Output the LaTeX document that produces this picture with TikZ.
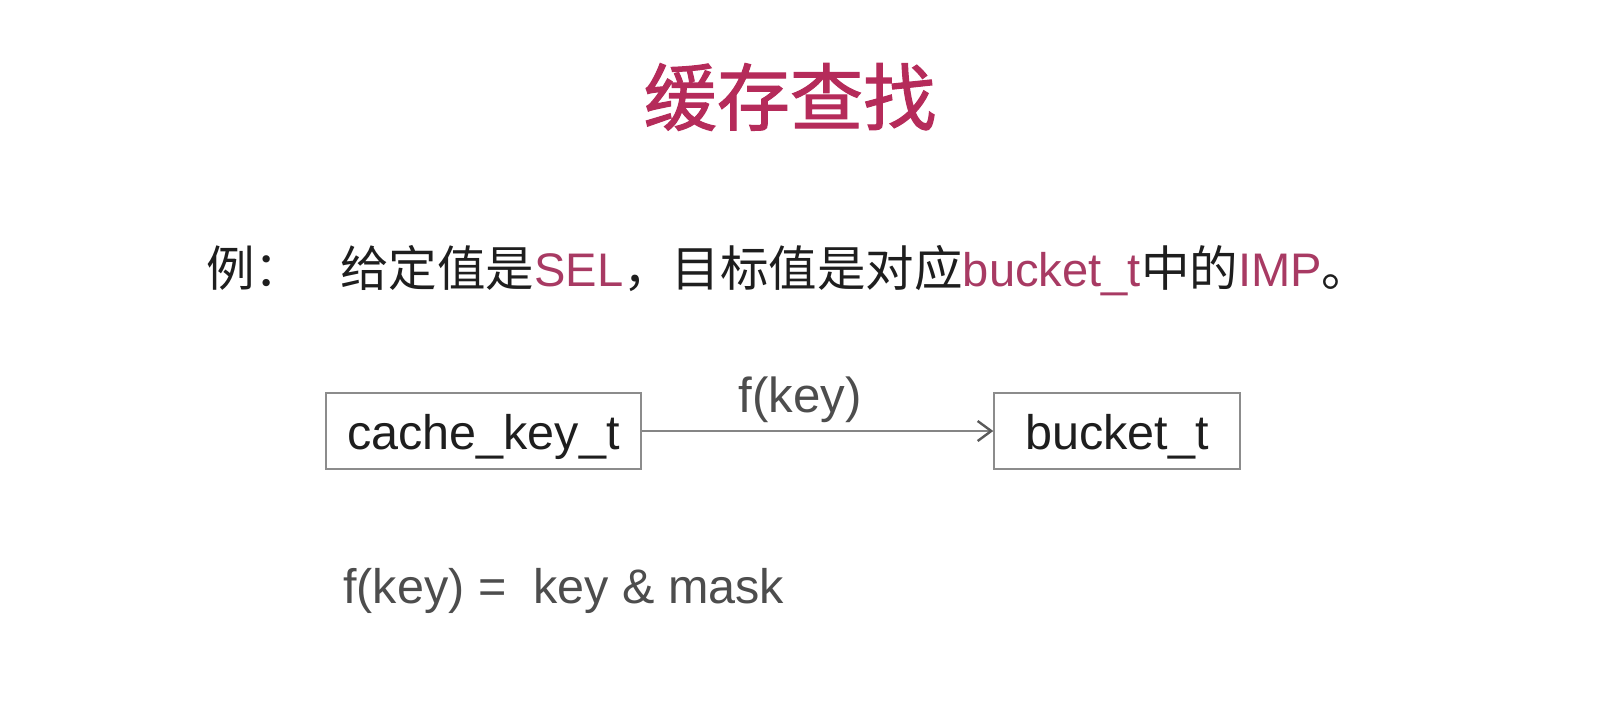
\documentclass[tikz,border=0pt]{standalone}
\usepackage{fontspec}
\setmainfont{Liberation Sans}
\newfontfamily\cjk{Noto Sans CJK SC}
\newfontfamily\cjktitel[FakeBold=1.5]{Noto Sans CJK SC}
\usetikzlibrary{arrows.meta}
\definecolor{titel}{HTML}{B52B5A}
\definecolor{hervor}{HTML}{A83A63}
\definecolor{schwarz}{HTML}{1E1E1E}
\definecolor{grau}{HTML}{4D4D4D}
\definecolor{rahmen}{HTML}{8C8C8C}
\definecolor{pfeil}{HTML}{858585}
\definecolor{spitze}{HTML}{5A5A5A}
\tikzset{
  gross/.style={font=\fontsize{33.5}{40}\selectfont},
  kasten/.style={draw=rahmen,line width=1pt,minimum height=54pt,inner sep=0pt,
    text height=34pt,text depth=7pt,text=schwarz,font=\fontsize{34.5}{40}\selectfont},
  pf/.style={-{Straight Barb[length=3.4mm,width=5mm,line width=1.7pt,color=spitze]},pfeil,line width=1pt},
}
\newcommand{\zh}[1]{{\cjk\fontsize{34.5}{40}\selectfont #1}}

\begin{document}
\begin{tikzpicture}[x=0.025cm,y=-0.025cm]
  \useasboundingbox (0,0) rectangle (1602,706);
  % title
  \node[text=titel,font=\cjktitel\fontsize{52}{60}\selectfont] (titel) at (790,97) {缓存查找};
  % example line
  \node[anchor=base west,inner sep=0pt,text=schwarz,gross] (bsp) at (206,286) {\zh{例：}};
  \node[anchor=base west,inner sep=0pt,text=schwarz,gross] (zeile) at (340,286)
    {\zh{给定值是}{\color{hervor}SEL}\zh{，目标值是对应}{\color{hervor}bucket\_t}\zh{中的}{\color{hervor}IMP}\zh{。}};
  % boxes
  \node[kasten,minimum width=224pt] (ck) at (483.5,431) {cache\_key\_t};
  \node[kasten,minimum width=175pt] (bt) at (1117,431) {bucket\_t};
  \draw[pf] (ck) -- (bt) node[pos=0.45,anchor=base,yshift=13pt,text=grau,font=\fontsize{35}{40}\selectfont] (fk) {f(key)};
  % formula
  \node[anchor=base west,inner sep=0pt,text=grau,font=\fontsize{34.5}{40}\selectfont] (formel) at (343,603) {f(key) =\ \ key \& mask};
\end{tikzpicture}
\end{document}
